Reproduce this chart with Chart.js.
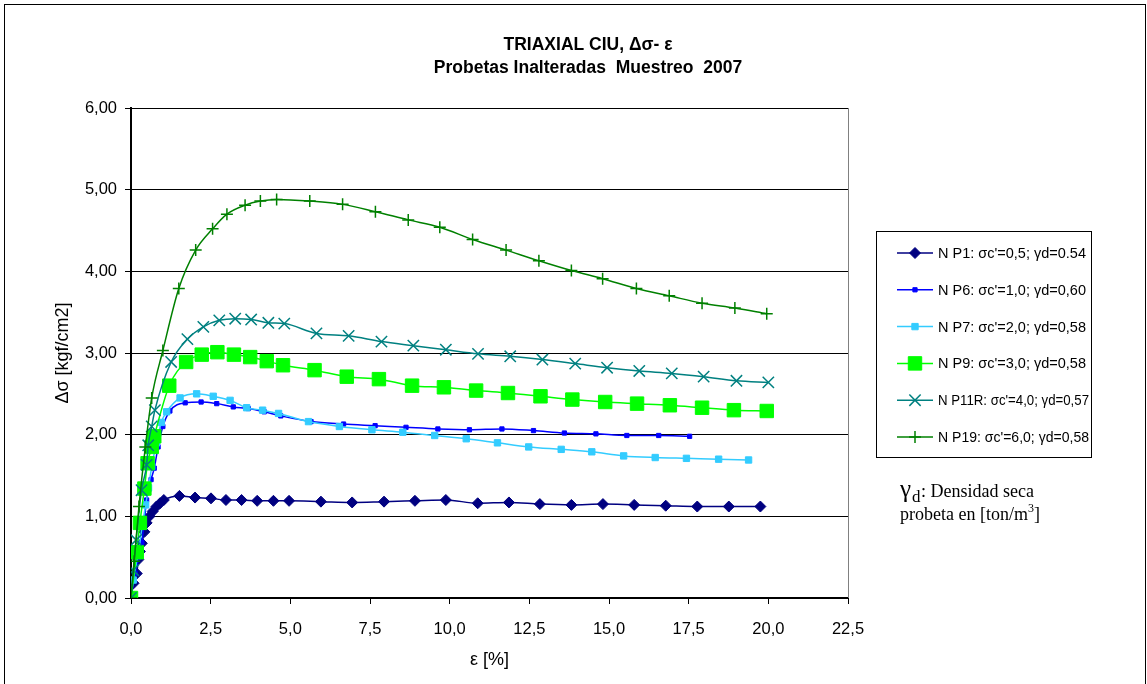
<!DOCTYPE html>
<html>
<head>
<meta charset="utf-8">
<script src="https://cdn.jsdelivr.net/npm/chart.js@4/dist/chart.umd.min.js"></script>
<style>
  html, body { margin: 0; padding: 0; background: #fff; }
  #wrap { position: relative; width: 1147px; height: 684px; }
</style>
</head>
<body>
<div id="wrap"><canvas id="myChart" width="1147" height="684"></canvas></div>
<script>
// values (strain in %, deviator stress in kgf/cm2)
var p1Strain = [0, 0.08, 0.18, 0.23, 0.28, 0.34, 0.42, 0.49, 0.58, 0.68, 0.80, 0.91, 1.03, 1.52, 2.01, 2.51, 2.98, 3.47, 3.96, 4.47, 4.96, 5.96, 6.94, 7.94, 8.91, 9.88, 10.88, 11.86, 12.83, 13.82, 14.81, 15.79, 16.78, 17.77, 18.76, 19.75];
var p1Stress = [0, 0.18, 0.30, 0.47, 0.57, 0.67, 0.81, 0.92, 1.00, 1.06, 1.12, 1.16, 1.20, 1.25, 1.23, 1.22, 1.20, 1.20, 1.19, 1.19, 1.19, 1.18, 1.17, 1.18, 1.19, 1.20, 1.16, 1.17, 1.15, 1.14, 1.15, 1.14, 1.13, 1.12, 1.12, 1.12];

var p6Strain = [0, 0.13, 0.25, 0.34, 0.42, 0.49, 0.56, 0.63, 0.73, 0.85, 1.00, 1.22, 1.70, 2.20, 2.69, 3.21, 3.68, 4.18, 4.70, 5.65, 6.67, 7.66, 8.63, 9.63, 10.62, 11.64, 12.63, 13.60, 14.59, 15.56, 16.56, 17.53];
var p6Stress = [0, 0.30, 0.50, 0.68, 0.95, 1.20, 1.33, 1.45, 1.59, 1.85, 2.10, 2.29, 2.39, 2.40, 2.38, 2.34, 2.32, 2.28, 2.23, 2.16, 2.13, 2.11, 2.09, 2.07, 2.06, 2.07, 2.05, 2.02, 2.01, 1.99, 1.99, 1.98];

var p7Strain = [0, 0.07, 0.25, 0.35, 0.46, 0.55, 0.65, 0.80, 0.95, 1.12, 1.54, 2.06, 2.58, 3.11, 3.63, 4.13, 4.63, 5.57, 6.54, 7.56, 8.53, 9.53, 10.52, 11.50, 12.48, 13.50, 14.46, 15.46, 16.45, 17.43, 18.44, 19.38];
var p7Stress = [0, 0.22, 0.60, 0.88, 1.14, 1.35, 1.61, 1.90, 2.15, 2.28, 2.45, 2.50, 2.47, 2.42, 2.33, 2.30, 2.26, 2.16, 2.10, 2.06, 2.03, 1.99, 1.95, 1.90, 1.85, 1.82, 1.79, 1.74, 1.72, 1.71, 1.70, 1.69];

var p9Strain = [0, 0.18, 0.28, 0.42, 0.52, 0.65, 0.73, 1.20, 1.73, 2.22, 2.71, 3.23, 3.74, 4.26, 4.77, 5.76, 6.77, 7.78, 8.82, 9.82, 10.83, 11.83, 12.85, 13.85, 14.88, 15.88, 16.91, 17.92, 18.92, 19.95];
var p9Stress = [0, 0.56, 0.92, 1.34, 1.65, 1.85, 1.98, 2.60, 2.89, 2.98, 3.01, 2.98, 2.95, 2.90, 2.85, 2.79, 2.71, 2.68, 2.60, 2.58, 2.54, 2.51, 2.47, 2.43, 2.40, 2.38, 2.36, 2.33, 2.30, 2.29];

var p11Strain = [0, 0.07, 0.16, 0.33, 0.49, 0.54, 0.65, 0.75, 1.26, 1.77, 2.27, 2.77, 3.27, 3.77, 4.31, 4.81, 5.82, 6.83, 7.86, 8.86, 9.88, 10.89, 11.90, 12.91, 13.94, 14.94, 15.95, 16.97, 17.97, 19.00, 20.00];
var p11Stress = [0, 0.34, 0.71, 1.32, 1.63, 1.87, 2.10, 2.30, 2.89, 3.17, 3.32, 3.40, 3.42, 3.41, 3.37, 3.36, 3.24, 3.21, 3.14, 3.09, 3.04, 2.99, 2.96, 2.92, 2.87, 2.82, 2.78, 2.75, 2.71, 2.66, 2.64];

var p19Strain = [0, 0.10, 0.25, 0.45, 0.65, 1.00, 1.50, 2.03, 2.56, 3.01, 3.58, 4.06, 4.57, 5.61, 6.64, 7.67, 8.70, 9.69, 10.72, 11.77, 12.80, 13.82, 14.80, 15.86, 16.89, 17.92, 18.95, 19.95];
var p19Stress = [0, 0.45, 1.12, 1.85, 2.45, 3.03, 3.79, 4.26, 4.52, 4.70, 4.81, 4.86, 4.88, 4.86, 4.82, 4.73, 4.63, 4.54, 4.39, 4.26, 4.13, 4.01, 3.91, 3.79, 3.70, 3.61, 3.55, 3.48];

var seriesNames = [
  "N P1: \u03c3c'=0,5; \u03b3d=0.54",
  "N P6: \u03c3c'=1,0; \u03b3d=0,60",
  "N P7: \u03c3c'=2,0; \u03b3d=0,58",
  "N P9: \u03c3c'=3,0; \u03b3d=0,58",
  "N P11R: \u03c3c'=4,0; \u03b3d=0,57",
  "N P19: \u03c3c'=6,0; \u03b3d=0,58"
];
var titleLines = ["TRIAXIAL CIU, \u0394\u03c3- \u03b5", "Probetas Inalteradas  Muestreo  2007"];
var xTicks = [0, 2.5, 5, 7.5, 10, 12.5, 15, 17.5, 20, 22.5];
var yTicks = [0, 1, 2, 3, 4, 5, 6];

function pts(xs, ys) {
  return xs.map(function (x, i) { return { x: x, y: ys[i] }; });
}

var ARIAL = "'Liberation Sans', Arial, sans-serif";
var TIMES = "'Liberation Serif', 'Times New Roman', serif";

function serie(i, xs, ys, color, style, radius, fill, order) {
  return {
    label: seriesNames[i],
    data: pts(xs, ys),
    borderColor: color,
    backgroundColor: fill,
    borderWidth: 1.5,
    pointStyle: style,
    pointRadius: radius,
    pointBorderColor: color,
    pointBackgroundColor: fill,
    pointBorderWidth: style === "cross" || style === "crossRot" ? 1.5 : 1,
    cubicInterpolationMode: "monotone",
    order: order
  };
}

// title, legend box, frame and note drawn on the canvas
var decor = {
  id: "decor",
  afterDraw: function (chart) {
    var ctx = chart.ctx;
    var area = chart.chartArea;
    ctx.save();

    // outer frame
    ctx.strokeStyle = "#000";
    ctx.lineWidth = 1;
    ctx.strokeRect(4.5, 4.5, 1141, 690);

    // right edge of plot
    ctx.strokeStyle = "#808080";
    ctx.beginPath();
    ctx.moveTo(area.right + 0.5, area.top);
    ctx.lineTo(area.right + 0.5, area.bottom);
    ctx.stroke();

    // title
    ctx.fillStyle = "#000";
    ctx.font = "bold 17.5px " + ARIAL;
    ctx.textAlign = "center";
    ctx.textBaseline = "middle";
    ctx.fillText(titleLines[0], 588, 45);
    ctx.fillText(titleLines[1], 588, 68);

    // legend
    ctx.strokeStyle = "#000";
    ctx.lineWidth = 1;
    ctx.strokeRect(876.5, 231.5, 215, 226);
    ctx.font = "14.5px " + ARIAL;
    ctx.textAlign = "left";
    chart.data.datasets.forEach(function (ds, i) {
      var y = 253 + i * 36.8;
      ctx.strokeStyle = ds.borderColor;
      ctx.lineWidth = 1.5;
      ctx.beginPath();
      ctx.moveTo(897, y);
      ctx.lineTo(933, y);
      ctx.stroke();
      ctx.fillStyle = ds.pointBackgroundColor;
      ctx.strokeStyle = ds.pointBorderColor;
      ctx.lineWidth = ds.pointBorderWidth;
      Chart.helpers.drawPoint(ctx, { pointStyle: ds.pointStyle, radius: ds.pointRadius, borderWidth: ds.pointBorderWidth, rotation: 0 }, 915, y);
      ctx.fillStyle = "#000";
      ctx.fillText(ds.label, 938, y + 1, 151);
    });

    // note
    ctx.fillStyle = "#000";
    ctx.textBaseline = "alphabetic";
    ctx.font = "25px " + TIMES;
    ctx.fillText("\u03b3", 900, 497);
    ctx.font = "17px " + TIMES;
    ctx.fillText("d", 912, 502);
    ctx.font = "18px " + TIMES;
    ctx.fillText(": Densidad seca", 921, 497);
    ctx.fillText("probeta en [ton/m", 900, 520);
    var w = ctx.measureText("probeta en [ton/m").width;
    ctx.font = "12px " + TIMES;
    ctx.fillText("3", 900 + w, 512);
    ctx.font = "18px " + TIMES;
    ctx.fillText("]", 900 + w + 6, 520);

    ctx.restore();
  }
};

var ctx = document.getElementById("myChart");
var myChart = new Chart(ctx, {
  type: "line",
  data: {
    datasets: [
      serie(0, p1Strain, p1Stress, "#000080", "rectRot", 5.5, "#000080", 6),
      serie(1, p6Strain, p6Stress, "#0000FF", "rect", 3, "#0000FF", 5),
      serie(2, p7Strain, p7Stress, "#33CCFF", "rect", 4.5, "#33CCFF", 4),
      serie(3, p9Strain, p9Stress, "#00FF00", "rect", 9.5, "#00FF00", 3),
      serie(4, p11Strain, p11Stress, "#008080", "crossRot", 8, "#008080", 2),
      serie(5, p19Strain, p19Stress, "#008000", "cross", 6, "#008000", 1)
    ]
  },
  options: {
    responsive: false,
    animation: false,
    events: [],
    layout: { padding: { left: 51, right: 299, top: 108, bottom: 6 } },
    plugins: {
      legend: { display: false },
      title: { display: false },
      tooltip: { enabled: false }
    },
    scales: {
      x: {
        type: "linear",
        min: 0,
        max: 22.5,
        afterBuildTicks: function (axis) {
          axis.ticks = xTicks.map(function (v) { return { value: v }; });
        },
        afterFit: function (axis) { axis.height = 80; },
        ticks: {
          color: "#000",
          font: { family: ARIAL, size: 16.5 },
          padding: 16,
          maxRotation: 0,
          callback: function (v) { return v.toFixed(1).replace(".", ","); }
        },
        grid: { drawOnChartArea: false, drawTicks: true, tickLength: 6, color: "#000" },
        border: { color: "#000", width: 2 },
        title: {
          display: true,
          text: "\u03b5 [%]",
          color: "#000",
          font: { family: ARIAL, size: 18 },
          padding: { top: 4, bottom: 7 }
        }
      },
      y: {
        min: 0,
        max: 6,
        afterBuildTicks: function (axis) {
          axis.ticks = yTicks.map(function (v) { return { value: v }; });
        },
        afterFit: function (axis) { axis.width = 80; },
        ticks: {
          color: "#000",
          font: { family: ARIAL, size: 16.5 },
          padding: 8,
          callback: function (v) { return v.toFixed(2).replace(".", ","); }
        },
        grid: { color: "#000", lineWidth: 1, drawTicks: true, tickLength: 6 },
        border: { color: "#000", width: 2 },
        title: {
          display: true,
          text: "\u0394\u03c3 [kgf/cm2]",
          color: "#000",
          font: { family: ARIAL, size: 18 },
          padding: { top: 1, bottom: 4 }
        }
      }
    }
  },
  plugins: [decor]
});
</script>
</body>
</html>
